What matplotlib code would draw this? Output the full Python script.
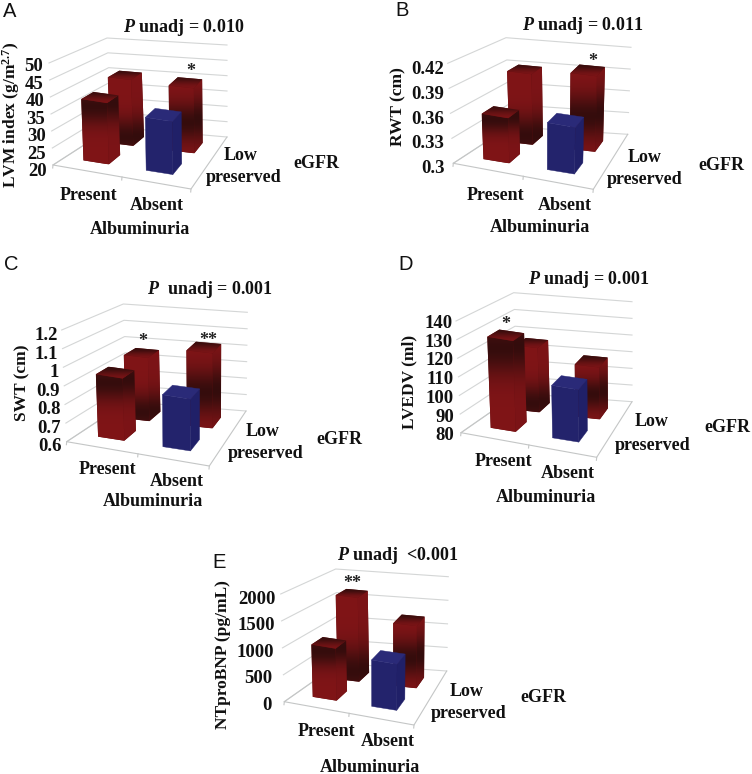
import numpy as np
import matplotlib
matplotlib.use("Agg")
import matplotlib.pyplot as plt
from matplotlib.patches import Polygon

plt.rcParams['font.family'] = ['Liberation Serif', 'DejaVu Serif']
plt.rcParams['mathtext.fontset'] = 'custom'
plt.rcParams['mathtext.rm'] = 'Liberation Serif:bold'
plt.rcParams['mathtext.bf'] = 'Liberation Serif:bold'
plt.rcParams['mathtext.it'] = 'Liberation Serif:italic:bold'

# bar values, order: present/preserved, present/low, absent/preserved, absent/low
valuesA = [38.5, 41.0, 36.0, 40.5]
valuesB = [0.356, 0.392, 0.359, 0.400]
valuesC = [0.945, 0.97, 0.89, 1.04]
valuesD = [130, 117, 109, 110]
valuesE = [1000, 1700, 900, 1270]

ticksA = [20, 25, 30, 35, 40, 45, 50]
ticksB = [0.3, 0.33, 0.36, 0.39, 0.42]
ticksC = [0.6, 0.7, 0.8, 0.9, 1, 1.1, 1.2]
ticksD = [80, 90, 100, 110, 120, 130, 140]
ticksE = [0, 500, 1000, 1500, 2000]

labelsA = ['20', '25', '30', '35', '40', '45', '50']
labelsB = ['0.3', '0.33', '0.36', '0.39', '0.42']
labelsC = ['0.6', '0.7', '0.8', '0.9', '1', '1.1', '1.2']
labelsD = ['80', '90', '100', '110', '120', '130', '140']
labelsE = ['0', '500', '1000', '1500', '2000']

RED = np.array([0.50, 0.08, 0.09])
DARK = np.array([0.21, 0.05, 0.05])
BLUE = '#23236c'
BLUE_SIDE = '#202068'
BLUE_TOP = '#2a2a78'
GRID = '#d4d6d6'

# bar footprints as fractions of the floor, front row and back row
X_FRONT = [(0.14, 0.33), (0.61, 0.81)]
X_BACK = [(0.16, 0.345), (0.64, 0.84)]
D_SPANS = [(0.20, 0.42), (0.64, 0.85)]

panels = [
    dict(letter='A', values=valuesA, ticks=ticksA, labels=labelsA,
         fl=((53, 165), (49, 63)), fr=(191, 189), bl=((112, 127), (107, 38)), br=((227, 137), (227, 45)),
         off=((-6.3, 6.7), (-5.7, 3.7)), title=(184, 27, r'$\mathit{P}$ unadj = 0.010'),
         ylabel=(11, 115, r'LVM index (g/m$^{2.7}$)'), present=(88, 195), absent=(157, 206),
         alb=(140, 230), low=(241, 156), pres=(244, 177), egfr=(316, 164), let=(10, 11.5),
         stars=[(191, 70, '*')]),
    dict(letter='B', values=valuesB, ticks=ticksB, labels=labelsB,
         fl=((453.3, 163.3), (447.7, 63.3)), fr=(593.3, 189.3), bl=((509.3, 126.7), (506, 37.7)),
         br=((627.7, 134.3), (631, 47.3)),
         off=((-9, 5), (-3.3, 6.7)), title=(583, 25, r'$\mathit{P}$ unadj = 0.011'),
         ylabel=(398, 107, 'RWT (cm)'), present=(495, 195), absent=(565, 206),
         alb=(540, 227), low=(645, 158), pres=(645, 179), egfr=(721, 165), let=(402, 10),
         stars=[(593, 60, '*')]),
    dict(letter='C', values=valuesC, ticks=ticksC, labels=labelsC,
         fl=((66.7, 441.7), (61.7, 330)), fr=(209.3, 466), bl=((127.3, 401.7), (123.3, 304)),
         br=((246, 411), (247.3, 312.3)),
         off=((-5, 5), (-4.3, 5.7)), title=(210, 290, r'$\mathit{P}$  unadj = 0.001'),
         ylabel=(22, 383, 'SWT (cm)'), present=(107, 470), absent=(177, 481),
         alb=(153, 502), low=(263, 431), pres=(266, 454), egfr=(339, 440), let=(11, 265),
         stars=[(143, 340, '*'), (208, 339, '**')]),
    dict(letter='D', values=valuesD, ticks=ticksD, labels=labelsD,
         fl=((461, 432.7), (456, 321)), fr=(596.7, 457.3), bl=((517.7, 393.3), (513.7, 292.7)),
         br=((632, 401.7), (632, 301.7)),
         off=((-6.7, 3.3), (-3.3, 2.3)), title=(589, 280, r'$\mathit{P}$ unadj = 0.001'),
         ylabel=(409, 382, 'LVEDV (ml)'), present=(503, 462), absent=(568, 473),
         alb=(546, 498), low=(652, 422), pres=(653, 446), egfr=(727, 428), let=(406, 265),
         stars=[(506, 323, '*')]),
    dict(letter='E', values=valuesE, ticks=ticksE, labels=labelsE,
         fl=((284.3, 701.7), (280.7, 594)), fr=(414, 725), bl=((339, 663.3), (335.7, 569)),
         br=((446.7, 671), (448.3, 576.7)),
         off=((-12.7, 3.3), (-4.7, 5.3)), title=(398, 555, r'$\mathit{P}$ unadj  <0.001'),
         ylabel=(223, 655, 'NTproBNP (pg/mL)'), present=(326, 732), absent=(388, 742),
         alb=(370, 767), low=(467, 692), pres=(469, 713), egfr=(543, 697), let=(219, 562),
         stars=[(352, 582, '**')]),
]


# trilinear map from chart space (x, depth, height as 0-1) to picture pixels
def makeProject(p):
    fl0, fl1 = np.array(p['fl'][0], float), np.array(p['fl'][1], float)
    bl0, bl1 = np.array(p['bl'][0], float), np.array(p['bl'][1], float)
    br0, br1 = np.array(p['br'][0], float), np.array(p['br'][1], float)
    fr0 = np.array(p['fr'], float)
    fr1 = fr0 + (br1 - br0) * 1.1

    def project(x, d, v):
        bottom = (1 - d) * ((1 - x) * fl0 + x * fr0) + d * ((1 - x) * bl0 + x * br0)
        top = (1 - d) * ((1 - x) * fl1 + x * fr1) + d * ((1 - x) * bl1 + x * br1)
        return (1 - v) * bottom + v * top
    return project


# vertical shading, dark band centred at fraction c from the top
def shade(c, width, factor=1.0):
    t = np.linspace(0, 1, 128)
    k = np.exp(-((t - c) / width) ** 2)[:, None]
    return ((1 - k) * RED + k * DARK)[:, None, :] * factor


def gradientPoly(ax, pts, img):
    pts = np.array(pts)
    im = ax.imshow(img, extent=[pts[:, 0].min(), pts[:, 0].max(), pts[:, 1].max(), pts[:, 1].min()],
                   aspect='auto', zorder=3, interpolation='bilinear')
    im.set_clip_path(Polygon(pts, closed=True, transform=ax.transData))


def drawBar(ax, project, xs, ds, v, darkAt):
    x0, x1 = xs
    d0, d1 = ds
    front = [project(x0, d0, v), project(x1, d0, v), project(x1, d0, 0), project(x0, d0, 0)]
    side = [project(x1, d0, v), project(x1, d1, v), project(x1, d1, 0), project(x1, d0, 0)]
    top = [project(x0, d0, v), project(x1, d0, v), project(x1, d1, v), project(x0, d1, v)]
    if darkAt is None:
        ax.add_patch(Polygon(front, closed=True, fc=BLUE, ec=BLUE, lw=0.3, zorder=3))
        ax.add_patch(Polygon(side, closed=True, fc=BLUE_SIDE, ec=BLUE_SIDE, lw=0.3, zorder=3))
        ax.add_patch(Polygon(top, closed=True, fc=BLUE_TOP, ec=BLUE_TOP, lw=0.3, zorder=3))
        return
    # solid backing so the clipped faces leave no light seam between them
    outline = [top[3], top[2], side[2], front[2], front[3], top[0]]
    ax.add_patch(Polygon(outline, closed=True, fc=RED * 0.8, ec='none', zorder=2.9))
    gradientPoly(ax, front, shade(darkAt, 0.28))
    gradientPoly(ax, side, shade(darkAt, 0.28, 0.97))
    gradientPoly(ax, top, shade(0.0, 0.6))


def drawPanel(ax, p):
    project = makeProject(p)
    lo, hi = p['ticks'][0], p['ticks'][-1]
    scale = lambda val: (val - lo) / (hi - lo)

    # walls and floor
    for tick, label in zip(p['ticks'], p['labels']):
        v = scale(tick)
        pts = np.array([project(0, 0, v), project(0, 1, v), project(1, 1, v)])
        ax.plot(pts[:, 0], pts[:, 1], color=GRID, lw=0.8, zorder=1)
        tx, ty = project(0, 0, v)
        dx = (1 - v) * p['off'][0][0] + v * p['off'][1][0]
        dy = (1 - v) * p['off'][0][1] + v * p['off'][1][1]
        ax.text(tx + dx, ty + dy, label, ha='right', va='center',
                fontsize=13.5, fontweight='bold', color='#111111', zorder=5)
    floor = np.array([project(0, 1, 0), project(0, 0, 0), project(1, 0, 0), project(1, 1, 0)])
    ax.plot(floor[:, 0], floor[:, 1], color='#c4c6c6', lw=0.8, zorder=1)
    for x in [0, 0.5, 1]:
        q = project(x, 0, 0)
        ax.plot([q[0], q[0] - 0.3], [q[1], q[1] + 3], color='#c4c6c6', lw=0.8, zorder=1)

    # back row first, so the front row covers it
    drawBar(ax, project, X_BACK[0], D_SPANS[1], scale(p['values'][1]), 0.88)
    drawBar(ax, project, X_BACK[1], D_SPANS[1], scale(p['values'][3]), 0.55)
    drawBar(ax, project, X_FRONT[0], D_SPANS[0], scale(p['values'][0]), 0.12)
    drawBar(ax, project, X_FRONT[1], D_SPANS[0], scale(p['values'][2]), None)

    ax.text(p['let'][0], p['let'][1], p['letter'], family='Liberation Sans', fontsize=14.5,
            ha='center', va='center', color='#111111')
    ax.text(p['title'][0], p['title'][1], p['title'][2], fontsize=13, fontweight='bold',
            ha='center', va='center', color='#111111')
    ax.text(p['ylabel'][0], p['ylabel'][1], p['ylabel'][2], fontsize=12.5, fontweight='bold', rotation=90,
            ha='center', va='center', color='#111111')
    for key, text in [('present', 'Present'), ('absent', 'Absent'), ('alb', 'Albuminuria'),
                      ('low', 'Low'), ('pres', 'preserved'), ('egfr', 'eGFR')]:
        ax.text(p[key][0], p[key][1], text, fontsize=13, fontweight='bold',
                ha='center', va='center', color='#111111')
    for sx, sy, star in p['stars']:
        ax.text(sx, sy + 1.5, star, fontsize=13, fontweight='bold', ha='center', va='center',
                color='#222222', zorder=5)


def Main():
    fig = plt.figure(figsize=(7.52, 7.74), dpi=100)
    ax = fig.add_axes([0, 0, 1, 1])
    for p in panels:
        drawPanel(ax, p)
    ax.set_xlim(0, 752)
    ax.set_ylim(774, 0)
    ax.axis('off')
    fig.savefig('out.png', dpi=100, facecolor='white')


Main()
